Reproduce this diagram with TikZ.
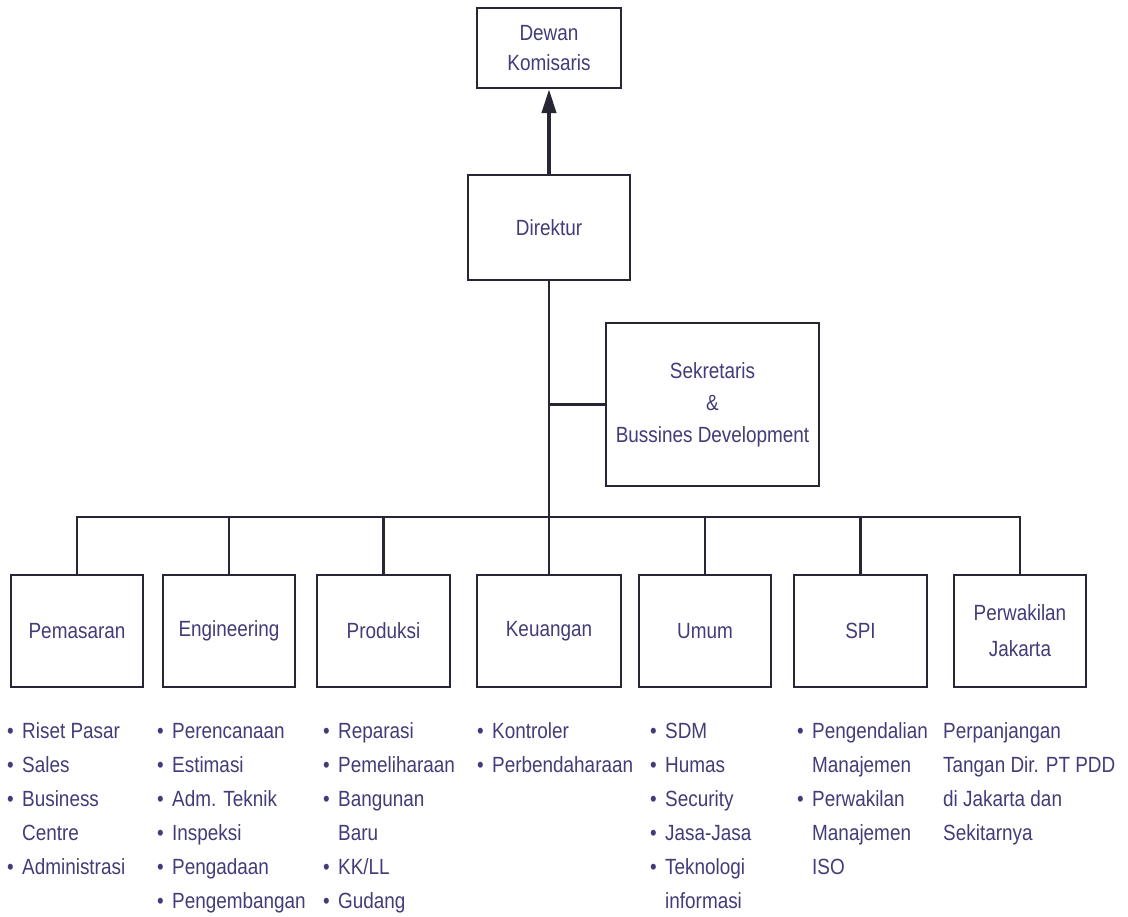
\documentclass[tikz,border=0pt]{standalone}
\usepackage{fontspec}
\setmainfont{Liberation Sans}[FakeStretch=0.86]
\usetikzlibrary{arrows.meta}
\definecolor{linecol}{RGB}{38,38,52}
\definecolor{textcol}{RGB}{66,60,120}
% bulleted entry and its continuation line
\newcommand{\bitem}[1]{\strut\makebox[15pt][l]{•}#1}
\newcommand{\bcont}[1]{\strut\hspace*{15pt}#1}

\begin{document}
\begin{tikzpicture}[x=1pt,y=-1pt,
  unitbox/.style={draw=linecol, line width=2.2pt, fill=white, inner sep=0pt,
    align=center, text=textcol, font=\fontsize{22}{30}\selectfont},
  link/.style={draw=linecol, line width=2.1pt},
  duties/.style={anchor=north west, inner sep=0pt, align=left, text=textcol,
    font=\fontsize{22}{34}\selectfont}]
\useasboundingbox (0,0) rectangle (1128,917);

% top management
\node[unitbox, minimum width=144pt, minimum height=80pt] (dewan) at (549,48) {Dewan\\Komisaris};
\node[unitbox, minimum width=162pt, minimum height=105pt] (direktur) at (549,227.5) {Direktur};
\node[unitbox, minimum width=213pt, minimum height=163pt] (sek) at (712.5,404.5)
  {Sekretaris\\[2pt]\&\\[2pt]Bussines Development};

% departments
\node[unitbox, minimum width=132pt, minimum height=112pt] (pemasaran) at (77,631) {Pemasaran};
\node[unitbox, minimum width=132pt, minimum height=112pt] (engineering) at (229,631) {Engineering};
\node[unitbox, minimum width=133pt, minimum height=112pt] (produksi) at (383.5,631) {Produksi};
\node[unitbox, minimum width=144pt, minimum height=112pt] (keuangan) at (549,631) {Keuangan};
\node[unitbox, minimum width=132pt, minimum height=112pt] (umum) at (705,631) {Umum};
\node[unitbox, minimum width=133pt, minimum height=112pt] (spi) at (860.5,631) {SPI};
\node[unitbox, minimum width=132pt, minimum height=112pt] (perwakilan) at (1020,631) {Perwakilan\\[6pt]Jakarta};

% connectors
\draw[draw=linecol, line width=4pt, -{Triangle[length=24pt,width=14pt]}] (direktur.north) -- (dewan.south);
\coordinate (bus) at (549,517);
\draw[link] (direktur.south) -- (keuangan.north);
\draw[link] (sek.west) -- (sek.west -| direktur.south);
\draw[link] (pemasaran.north) -- (pemasaran.north |- bus) -- (perwakilan.north |- bus) -- (perwakilan.north);
\foreach \d in {engineering, produksi, umum, spi}
  \draw[link] (\d.north) -- (\d.north |- bus);

% duties of each department
\node[duties] (pemasaran-d) at (7,714)
  {\bitem{Riset Pasar}\\\bitem{Sales}\\\bitem{Business}\\\bcont{Centre}\\\bitem{Administrasi}};
\node[duties] (engineering-d) at (157,714)
  {\bitem{Perencanaan}\\\bitem{Estimasi}\\\bitem{Adm. Teknik}\\\bitem{Inspeksi}\\\bitem{Pengadaan}\\\bitem{Pengembangan}};
\node[duties] (produksi-d) at (323,714)
  {\bitem{Reparasi}\\\bitem{Pemeliharaan}\\\bitem{Bangunan}\\\bcont{Baru}\\\bitem{KK/LL}\\\bitem{Gudang}};
\node[duties] (keuangan-d) at (477,714)
  {\bitem{Kontroler}\\\bitem{Perbendaharaan}};
\node[duties] (umum-d) at (650,714)
  {\bitem{SDM}\\\bitem{Humas}\\\bitem{Security}\\\bitem{Jasa-Jasa}\\\bitem{Teknologi}\\\bcont{informasi}};
\node[duties] (spi-d) at (797,714)
  {\bitem{Pengendalian}\\\bcont{Manajemen}\\\bitem{Perwakilan}\\\bcont{Manajemen}\\\bcont{ISO}};
\node[duties] (perwakilan-d) at (943,714)
  {\strut Perpanjangan\\\strut Tangan Dir. PT PDD\\\strut di Jakarta dan\\\strut Sekitarnya};
\end{tikzpicture}
\end{document}
